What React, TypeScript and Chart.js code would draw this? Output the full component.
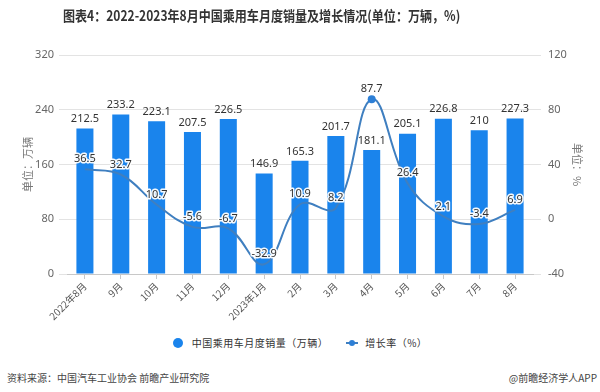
import React, { useEffect, useRef } from "react";
import { Chart, registerables } from "chart.js";

Chart.register(...registerables);

const categories = ["2022年8月", "9月", "10月", "11月", "12月", "2023年1月", "2月", "3月", "4月", "5月", "6月", "7月", "8月"];
const salesValues = [212.5, 233.2, 223.1, 207.5, 226.5, 146.9, 165.3, 201.7, 181.1, 205.1, 226.8, 210, 227.3];
const growthValues = [36.5, 32.7, 10.7, -5.6, -6.7, -32.9, 10.9, 8.2, 87.7, 26.4, 2.1, -3.4, 6.9];
const leftTicks = [0, 80, 160, 240, 320];
const rightTicks = [-40, 0, 40, 80, 120];
const highlightedIndex = 8;

const salesLabel = "中国乘用车月度销量（万辆）";
const growthLabel = "增长率（%）";
const titleText = "图表4：2022-2023年8月中国乘用车月度销量及增长情况(单位：万辆，%)";
const sourceText = "资料来源：中国汽车工业协会 前瞻产业研究院";
const brandText = "@前瞻经济学人APP";

const BAR_COLOR = "#1a84ec";
const LINE_COLOR = "#3f7fc0";
const FONT = "'Noto Sans', 'Noto Sans CJK SC', sans-serif";
const CJK_FONT = "'Noto Sans CJK SC', 'Noto Sans', sans-serif";

const labelPlugin = {
  id: "valueLabels",
  afterDatasetsDraw(chart: any) {
    const ctx = chart.ctx;
    ctx.save();
    ctx.font = `11px ${FONT}`;
    ctx.textAlign = "center";
    ctx.textBaseline = "middle";
    const barMeta = chart.getDatasetMeta(1);
    barMeta.data.forEach((el: any, i: number) => {
      ctx.fillStyle = "#333";
      ctx.fillText(String(salesValues[i]), el.x, el.y - 9.5);
    });
    const lineMeta = chart.getDatasetMeta(0);
    lineMeta.data.forEach((el: any, i: number) => {
      const t = String(growthValues[i]);
      ctx.lineWidth = 3;
      ctx.strokeStyle = "rgba(255,255,255,0.95)";
      ctx.lineJoin = "round";
      ctx.strokeText(t, el.x, el.y - 10);
      ctx.fillStyle = "#333";
      ctx.fillText(t, el.x, el.y - 10);
    });
    ctx.restore();
  },
};

export default function App() {
  const ref = useRef<HTMLCanvasElement | null>(null);
  useEffect(() => {
    document.body.style.margin = "0";
    if (!ref.current) return;
    const chart = new Chart(ref.current, {
      type: "bar",
      data: {
        labels: categories,
        datasets: [
          {
            type: "line",
            label: growthLabel,
            data: growthValues,
            yAxisID: "y1",
            borderColor: LINE_COLOR,
            backgroundColor: "#2d7fd6",
            borderWidth: 2,
            tension: 0.4,
            pointRadius: growthValues.map((_, i) => (i === highlightedIndex ? 4 : 0)),
            pointBackgroundColor: "#2d7fd6",
            pointBorderWidth: 0,
          } as any,
          {
            type: "bar",
            label: salesLabel,
            data: salesValues,
            yAxisID: "y",
            backgroundColor: BAR_COLOR,
            barPercentage: 0.95,
            categoryPercentage: 0.5,
          },
        ],
      },
      options: {
        animation: false,
        responsive: false,
        maintainAspectRatio: false,
        layout: { padding: { top: 55, left: 0, right: 0, bottom: 0 } },
        plugins: {
          legend: { display: false },
          tooltip: { enabled: false },
          title: { display: false },
        },
        scales: {
          x: {
            offset: true,
            grid: { offset: false, drawOnChartArea: false, tickLength: 5, color: "#c8c8c8" },
            border: { color: "#c8c8c8" },
            ticks: {
              minRotation: 45,
              maxRotation: 45,
              autoSkip: false,
              padding: 1,
              color: "#555",
              font: { family: CJK_FONT, size: 10 },
            },
            afterFit: (s: any) => {
              s.height = 56;
            },
          },
          y: {
            position: "left",
            min: leftTicks[0],
            max: leftTicks[leftTicks.length - 1],
            ticks: { stepSize: leftTicks[1] - leftTicks[0], color: "#666", padding: 5, font: { family: FONT, size: 11 } },
            grid: { color: "#e3e3e3", tickLength: 8 },
            border: { display: false },
            title: { display: true, text: "单位：万辆", color: "#777", font: { family: CJK_FONT, size: 11 }, padding: { top: 21, bottom: 0 } },
            afterFit: (s: any) => {
              s.width = 67;
            },
          },
          y1: {
            position: "right",
            min: rightTicks[0],
            max: rightTicks[rightTicks.length - 1],
            ticks: { stepSize: rightTicks[1] - rightTicks[0], color: "#666", padding: 7, font: { family: FONT, size: 11 } },
            grid: { drawOnChartArea: false, color: "#e3e3e3", tickLength: 8 },
            border: { display: false },
            title: { display: true, text: "单位：%", color: "#777", font: { family: CJK_FONT, size: 11 }, padding: { top: 16, bottom: 0 } },
            afterFit: (s: any) => {
              s.width = 67;
            },
          },
        },
      },
      plugins: [labelPlugin],
    });
    return () => chart.destroy();
  }, []);

  return (
    <div style={{ position: "fixed", left: 0, top: 0, width: 600, height: 392, background: "#fff", fontFamily: CJK_FONT, overflow: "hidden" }}>
      <canvas ref={ref} width={600} height={330} style={{ position: "absolute", left: 0, top: 0, width: 600, height: 330 }} />
      <div
        style={{
          position: "absolute",
          left: 63,
          top: 5,
          fontSize: 14,
          fontWeight: 700,
          color: "#333",
          whiteSpace: "nowrap",
          transform: "scaleX(0.86)",
          transformOrigin: "left top",
          lineHeight: "20px",
        }}
      >
        {titleText}
      </div>
      <div style={{ position: "absolute", left: 0, top: 334, width: 600, display: "flex", justifyContent: "center", alignItems: "center", fontSize: 10, color: "#333", lineHeight: "18px" }}>
        <div style={{ display: "flex", alignItems: "center", marginLeft: 0 }}>
          <span style={{ display: "inline-block", width: 10, height: 10, borderRadius: 5, background: BAR_COLOR, marginRight: 9 }} />
          <span style={{ letterSpacing: 0.5 }}>{salesLabel}</span>
        </div>
        <div style={{ display: "flex", alignItems: "center", marginLeft: 18 }}>
          <span style={{ position: "relative", display: "inline-block", width: 12, height: 8, marginRight: 7 }}>
            <span style={{ position: "absolute", left: 0, top: 3, width: 12, height: 2, background: LINE_COLOR }} />
            <span style={{ position: "absolute", left: 3, top: 1, width: 6, height: 6, borderRadius: 3, background: "#2d7fd6" }} />
          </span>
          <span style={{ letterSpacing: 0.5 }}>{growthLabel}</span>
        </div>
      </div>
      <div style={{ position: "absolute", left: 7, top: 370, fontSize: 10, color: "#444", lineHeight: "16px", whiteSpace: "nowrap" }}>{sourceText}</div>
      <div style={{ position: "absolute", right: 3, top: 370, fontSize: 10, color: "#444", lineHeight: "16px", whiteSpace: "nowrap" }}>{brandText}</div>
    </div>
  );
}
